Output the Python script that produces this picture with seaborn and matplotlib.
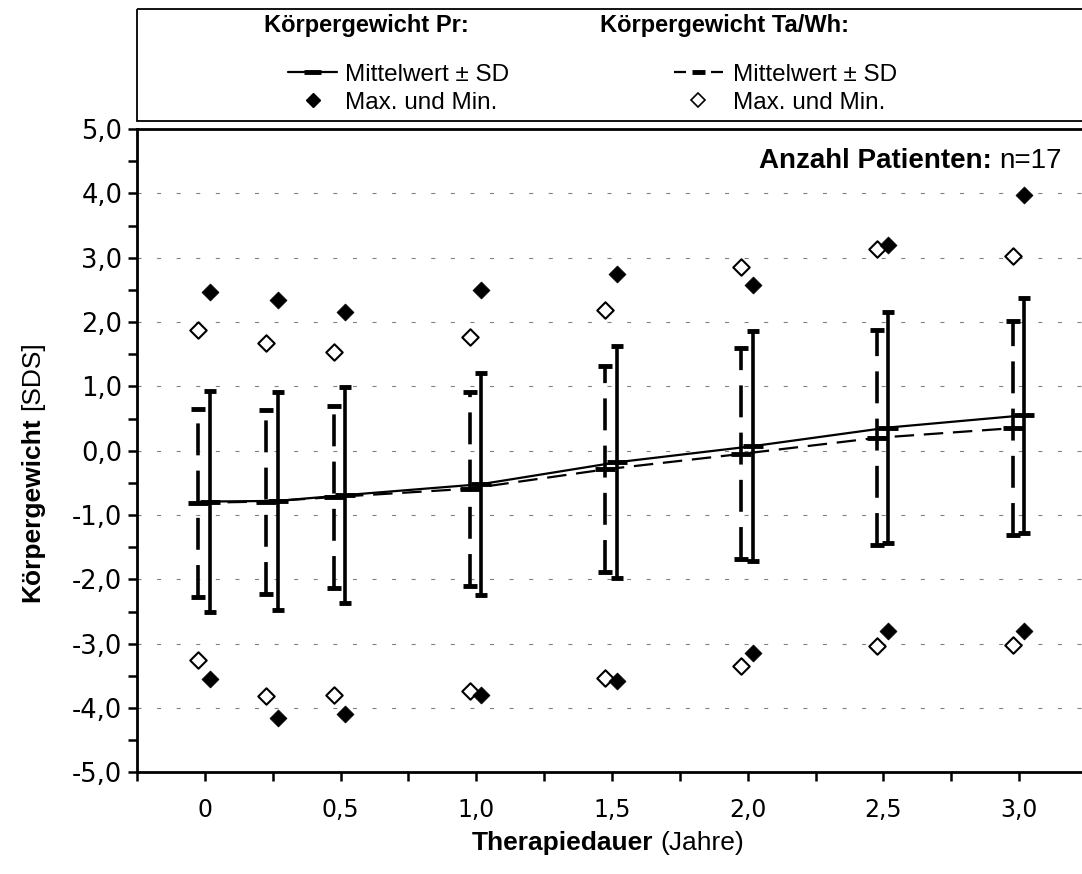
import numpy as np
import pandas as pd
import matplotlib
matplotlib.use("Agg")
import matplotlib.pyplot as plt
import seaborn as sns
from matplotlib.patches import Rectangle
from matplotlib.ticker import FixedLocator

# ---------------- data ----------------
times = [0, 0.25, 0.5, 1.0, 1.5, 2.0, 2.5, 3.0]

pr_mean = [-0.79, -0.78, -0.69, -0.52, -0.18, 0.07, 0.36, 0.55]
pr_sd   = [1.72, 1.70, 1.68, 1.73, 1.80, 1.79, 1.80, 1.83]
pr_max  = [2.46, 2.34, 2.15, 2.49, 2.74, 2.58, 3.20, 3.98]
pr_min  = [-3.55, -4.15, -4.10, -3.80, -3.58, -3.14, -2.81, -2.81]

ta_mean = [-0.81, -0.79, -0.72, -0.59, -0.29, -0.05, 0.20, 0.35]
ta_sd   = [1.46, 1.43, 1.42, 1.51, 1.60, 1.64, 1.67, 1.66]
ta_max  = [1.87, 1.68, 1.53, 1.77, 2.18, 2.85, 3.14, 3.03]
ta_min  = [-3.25, -3.81, -3.79, -3.73, -3.53, -3.35, -3.03, -3.02]

x_ticklabels = ["0", "0,5", "1,0", "1,5", "2,0", "2,5", "3,0"]
y_ticklabels = ["-5,0", "-4,0", "-3,0", "-2,0", "-1,0", "0,0", "1,0", "2,0", "3,0", "4,0", "5,0"]

pr_offset = 0.018
ta_offset = -0.024

df_pr = pd.DataFrame({"t": np.array(times) + pr_offset, "mean": pr_mean, "sd": pr_sd,
                      "max": pr_max, "min": pr_min})
df_ta = pd.DataFrame({"t": np.array(times) + ta_offset, "mean": ta_mean, "sd": ta_sd,
                      "max": ta_max, "min": ta_min})

# ---------------- style ----------------
sns.set_style("ticks")
plt.rcParams['font.family'] = ['Liberation Sans', 'DejaVu Sans']
plt.rcParams['lines.scale_dashes'] = False
for k in ["text.color", "axes.labelcolor", "xtick.color", "ytick.color", "axes.edgecolor"]:
    plt.rcParams[k] = "black"
FS = 17

W, H = 1082, 874
fig = plt.figure(figsize=(W / 100, H / 100), dpi=100)


def frac(x, y):
    return x / W, 1 - y / H


L, T, R, B = 137, 129, 1087, 772.4
ax = fig.add_axes([L / W, 1 - B / H, (R - L) / W, (B - T) / H])

ax.set_xlim(-0.25, 3.25)
ax.set_ylim(-5, 5)

# grid
ax.set_axisbelow(True)
for yv in range(-4, 5):
    ax.axhline(yv, color="#808080", lw=0.8, dashes=(2.9, 11.2), zorder=0)

# error bars (SD)
eb_ta = ax.errorbar(df_ta["t"], df_ta["mean"], yerr=df_ta["sd"], fmt="none",
                    ecolor="black", elinewidth=2.6, capsize=5, capthick=3.5, zorder=3)
eb_ta[2][0].set_linestyle((0, (23, 11)))
eb_pr = ax.errorbar(df_pr["t"], df_pr["mean"], yerr=df_pr["sd"], fmt="none",
                    ecolor="black", elinewidth=2.6, capsize=4, capthick=3.5, zorder=3)

# mean lines
sns.lineplot(data=df_ta, x="t", y="mean", color="black", lw=1.6,
             marker="_", markersize=14, markeredgewidth=3.5, markeredgecolor="black",
             ax=ax, zorder=4)
ax.lines[-1].set_dashes((14, 7))
sns.lineplot(data=df_pr, x="t", y="mean", color="black", lw=1.6,
             marker="_", markersize=14, markeredgewidth=3.5, markeredgecolor="black",
             ax=ax, zorder=4)

# max/min diamonds
sns.scatterplot(x=list(df_ta["t"]) * 2, y=list(df_ta["max"]) + list(df_ta["min"]),
                marker="D", s=70, facecolor="white", edgecolor="black", linewidth=1.5,
                ax=ax, zorder=5)
sns.scatterplot(x=list(df_pr["t"]) * 2, y=list(df_pr["max"]) + list(df_pr["min"]),
                marker="D", s=75, color="black", edgecolor="black", linewidth=0.5,
                ax=ax, zorder=6)

# axes styling
ax.set_xlabel("")
ax.set_ylabel("")
ax.xaxis.set_major_locator(FixedLocator([0, 0.5, 1.0, 1.5, 2.0, 2.5, 3.0]))
ax.set_xticklabels(x_ticklabels)
ax.xaxis.set_minor_locator(FixedLocator([-0.25, 0.25, 0.75, 1.25, 1.75, 2.25, 2.75, 3.25]))
ax.yaxis.set_major_locator(FixedLocator(list(range(-5, 6))))
ax.set_yticklabels(y_ticklabels)
ax.yaxis.set_minor_locator(FixedLocator([v + 0.5 for v in range(-5, 5)]))
ax.tick_params(axis="both", which="both", direction="out", length=6.5, width=1.8,
               color="black", labelsize=FS)
ax.tick_params(axis="x", pad=12)
ax.tick_params(axis="y", pad=4)
for lab in ax.get_yticklabels():
    lab.set_fontfamily(["DejaVu Sans"])
    lab.set_fontsize(18.5)
for lab in ax.get_xticklabels():
    lab.set_fontfamily(["DejaVu Sans"])
    lab.set_fontsize(17)
for s in ["left", "bottom", "top"]:
    ax.spines[s].set_linewidth(2.0)
    ax.spines[s].set_color("black")
ax.spines["right"].set_visible(False)

# ---------------- text helpers ----------------
fig.canvas.draw()
renderer = fig.canvas.get_renderer()


def rich(parts, x, y, align="center", rotation=0, size=FS):
    objs = []
    lens = []
    for s, w in parts:
        t = fig.text(0, 0, s, fontsize=size, fontweight=w, rotation=rotation,
                     rotation_mode="anchor", ha="left", va="baseline", color="black")
        bb = t.get_window_extent(renderer)
        lens.append(bb.width if rotation == 0 else bb.height)
        objs.append(t)
    gap = size * 1.389 * 0.28
    total = sum(lens) + gap * (len(parts) - 1)
    if align == "center":
        start = -total / 2
    elif align == "left":
        start = 0
    else:
        start = -total
    pos = start
    for t, ln in zip(objs, lens):
        if rotation == 0:
            fx, fy = frac(x + pos, y + size * 1.389 * 0.36)
        else:
            fx, fy = frac(x + size * 1.389 * 0.36, y - pos)
        t.set_position((fx, fy))
        pos += ln + gap
    return objs


rich([("Therapiedauer", "bold"), ("(Jahre)", "normal")], 608, 840, size=19)
rich([("Körpergewicht", "bold"), ("[SDS]", "normal")], 30, 472, rotation=90, size=19)
rich([("Anzahl Patienten:", "bold"), ("n=17", "normal")], 1062, 158, align="right", size=20)

# ---------------- legend box ----------------
ov = fig.add_axes([0, 0, 1, 1], facecolor="none")
ov.set_xlim(0, W)
ov.set_ylim(H, 0)
ov.axis("off")
ov.add_patch(Rectangle((137, 8.5), 960, 112.5, fill=False, lw=1.3, edgecolor="black"))

rich([("Körpergewicht Pr:", "bold")], 264, 23, align="left")
rich([("Körpergewicht Ta/Wh:", "bold")], 600, 23, align="left")

# Pr legend
ov.plot([288, 337], [72, 72], color="black", lw=1.6)
ov.plot([304, 321], [72, 72], color="black", lw=3.5, solid_capstyle="butt")
ov.plot([313], [100], marker="D", ms=7, color="black")
rich([("Mittelwert ± SD", "normal")], 345, 72, align="left", size=17.5)
rich([("Max. und Min.", "normal")], 345, 100, align="left", size=17.5)

# Ta legend
ov.plot([674, 686], [72, 72], color="black", lw=1.6, solid_capstyle="butt")
ov.plot([692, 705], [72, 72], color="black", lw=3.5, solid_capstyle="butt")
ov.plot([711, 723], [72, 72], color="black", lw=1.6, solid_capstyle="butt")
ov.plot([698], [100], marker="D", ms=7, markerfacecolor="white", markeredgecolor="black",
        markeredgewidth=1.2)
rich([("Mittelwert ± SD", "normal")], 733, 72, align="left", size=17.5)
rich([("Max. und Min.", "normal")], 733, 100, align="left", size=17.5)

fig.savefig("out.png", dpi=100)
